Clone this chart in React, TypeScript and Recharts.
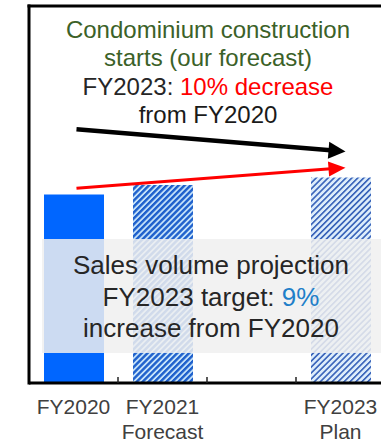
import React from "react";
import { Bar, BarChart, Cell, ReferenceLine, XAxis, YAxis } from "recharts";

const FONT = '"Liberation Sans", Arial, sans-serif';

// fiscal years on the category axis (FY2022 is left blank)
const categories = ["FY2020", "FY2021", "FY2022", "FY2023"];
const tickLabels = [["FY2020"], ["FY2021", "Forecast"], [], ["FY2023", "Plan"]];

// sales volume index, FY2020 = 100
const salesVolume = [100, 105, null, 109];

// trend arrows, start / end in axis units
const startsTrend = [134.7, 123];
const salesTrend = [103.2, 114];

const BAR_FILLS = ["#0066FF", "url(#hatchForecast)", "none", "url(#hatchPlan)"];

const data = categories.map((year, i) => ({ year, sales: salesVolume[i] }));

function arrowShape(color: string, lineWidth: number, headLen: number, headWidth: number) {
  return (props: any) => {
    const { x1, y1, x2, y2 } = props;
    const len = Math.hypot(x2 - x1, y2 - y1);
    const ux = (x2 - x1) / len;
    const uy = (y2 - y1) / len;
    // start a touch inside the first bar, tip a little past the last centre
    const sx = x1 + ux * 3;
    const sy = y1 + uy * 3;
    const tx = x2 + ux * 5;
    const ty = y2 + uy * 5;
    const bx = tx - ux * headLen;
    const by = ty - uy * headLen;
    const px = -uy * (headWidth / 2);
    const py = ux * (headWidth / 2);
    return (
      <g>
        <line x1={sx} y1={sy} x2={bx + ux * 2} y2={by + uy * 2} stroke={color} strokeWidth={lineWidth} />
        <polygon points={`${tx},${ty} ${bx + px},${by + py} ${bx - px},${by - py}`} fill={color} />
      </g>
    );
  };
}

function YearTick(props: any) {
  const { x, y, payload } = props;
  const idx = categories.indexOf(payload.value);
  const lines = tickLabels[idx] ?? [];
  const half = payload.offset ?? 0;
  return (
    <g>
      {idx < categories.length - 1 && (
        <line x1={x + half} x2={x + half} y1={y - 6} y2={y} stroke="#222" strokeWidth={1.5} />
      )}
      <text x={x} y={y + 31} textAnchor="middle" fontSize={21} fill="#404040" fontFamily={FONT}>
        {lines.map((t, i) => (
          <tspan key={i} x={x} dy={i === 0 ? 0 : 25}>
            {t}
          </tspan>
        ))}
      </text>
    </g>
  );
}

export default function App() {
  return (
    <div
      style={{
        position: "fixed",
        left: 0,
        top: 0,
        width: 381,
        height: 443,
        overflow: "hidden",
        background: "#fff",
        fontFamily: FONT,
      }}
    >
      <BarChart width={400} height={443} data={data} margin={{ top: 6, right: 15, left: 27, bottom: 0 }}>
        <defs>
          <pattern id="hatchForecast" patternUnits="userSpaceOnUse" width={4.2} height={4.2} patternTransform="rotate(45)">
            <rect width={4.2} height={4.2} fill="#C6E3FA" />
            <rect width={2.4} height={4.2} fill="#1E60CC" />
          </pattern>
          <pattern id="hatchPlan" patternUnits="userSpaceOnUse" width={4.2} height={4.2} patternTransform="rotate(45)">
            <rect width={4.2} height={4.2} fill="#DDEDFB" />
            <rect width={1.6} height={4.2} fill="#3560B8" />
          </pattern>
        </defs>
        <XAxis
          dataKey="year"
          height={60}
          tickLine={false}
          tickSize={0}
          tickMargin={0}
          axisLine={{ stroke: "#000", strokeWidth: 3 }}
          tick={<YearTick />}
          interval={0}
        />
        <YAxis
          width={2}
          domain={[0, 200]}
          tick={false}
          tickLine={false}
          axisLine={{ stroke: "#000", strokeWidth: 3, strokeLinecap: "square" }}
        />
        <ReferenceLine y={200} stroke="#000" strokeWidth={3} strokeLinecap="square" />
        <Bar dataKey="sales" barSize={60} isAnimationActive={false}>
          {data.map((_, i) => (
            <Cell key={i} fill={BAR_FILLS[i]} />
          ))}
        </Bar>
        <ReferenceLine
          segment={[
            { x: categories[0], y: startsTrend[0] },
            { x: categories[3], y: startsTrend[1] },
          ]}
          shape={arrowShape("#000", 4.5, 17, 17)}
        />
        <ReferenceLine
          segment={[
            { x: categories[0], y: salesTrend[0] },
            { x: categories[3], y: salesTrend[1] },
          ]}
          shape={arrowShape("#FF0000", 3, 17, 15)}
        />
      </BarChart>
      <svg
        width={381}
        height={443}
        style={{ position: "absolute", left: 0, top: 0, pointerEvents: "none" }}
        fontFamily={FONT}
      >
        <g fontSize={24} textAnchor="middle">
          <text x={208} y={37.5} fill="#3B6128">
            Condominium construction
          </text>
          <text x={208} y={66} fill="#3B6128">
            starts (our forecast)
          </text>
          <text x={208} y={94.5} fill="#262626">
            FY2023: <tspan fill="#FF0000">10% decrease</tspan>
          </text>
          <text x={208} y={123} fill="#1A1A1A">
            from FY2020
          </text>
        </g>
        <rect x={42} y={239} width={345} height={114} fill="#F0F0F0" fillOpacity={0.85} />
        <g fontSize={26} textAnchor="middle" fill="#262626">
          <text x={211} y={274}>
            Sales volume projection
          </text>
          <text x={211} y={305.5}>
            FY2023 target: <tspan fill="#1F7FC9">9%</tspan>
          </text>
          <text x={211} y={337}>
            increase from FY2020
          </text>
        </g>
      </svg>
    </div>
  );
}
